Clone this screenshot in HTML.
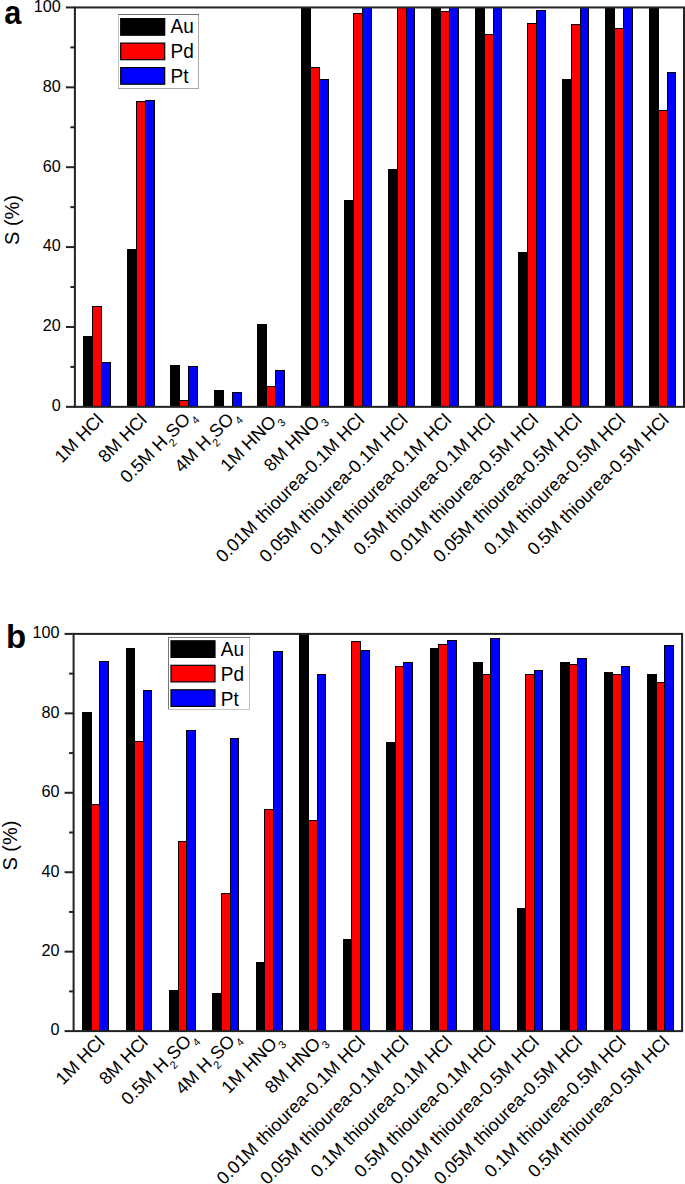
<!DOCTYPE html>
<html><head><meta charset="utf-8">
<style>
html,body{margin:0;padding:0;background:#fff;}
body{width:685px;height:1184px;overflow:hidden;}
svg{display:block;font-family:'Liberation Sans', sans-serif;}
</style></head>
<body>
<svg width="685" height="1184" viewBox="0 0 685 1184" fill="#000">
<rect x="0" y="0" width="685" height="1184" fill="#fff"/>
<rect x="83" y="336" width="10" height="71" fill="#000"/>
<rect x="92" y="306" width="10" height="101" fill="#000"/>
<rect x="93" y="307" width="8" height="100" fill="#ff0000"/>
<rect x="101" y="362" width="10" height="45" fill="#000"/>
<rect x="102" y="363" width="8" height="44" fill="#0000ff"/>
<rect x="127" y="249" width="10" height="158" fill="#000"/>
<rect x="136" y="101" width="10" height="306" fill="#000"/>
<rect x="137" y="102" width="8" height="305" fill="#ff0000"/>
<rect x="145" y="100" width="10" height="307" fill="#000"/>
<rect x="146" y="101" width="8" height="306" fill="#0000ff"/>
<rect x="170" y="365" width="10" height="42" fill="#000"/>
<rect x="179" y="400" width="10" height="7" fill="#000"/>
<rect x="180" y="401" width="8" height="6" fill="#ff0000"/>
<rect x="188" y="366" width="10" height="41" fill="#000"/>
<rect x="189" y="367" width="8" height="40" fill="#0000ff"/>
<rect x="214" y="390" width="10" height="17" fill="#000"/>
<rect x="232" y="392" width="10" height="15" fill="#000"/>
<rect x="233" y="393" width="8" height="14" fill="#0000ff"/>
<rect x="257" y="324" width="10" height="83" fill="#000"/>
<rect x="266" y="386" width="10" height="21" fill="#000"/>
<rect x="267" y="387" width="8" height="20" fill="#ff0000"/>
<rect x="275" y="370" width="10" height="37" fill="#000"/>
<rect x="276" y="371" width="8" height="36" fill="#0000ff"/>
<rect x="301" y="7" width="10" height="400" fill="#000"/>
<rect x="310" y="67" width="10" height="340" fill="#000"/>
<rect x="311" y="68" width="8" height="339" fill="#ff0000"/>
<rect x="319" y="79" width="10" height="328" fill="#000"/>
<rect x="320" y="80" width="8" height="327" fill="#0000ff"/>
<rect x="344" y="200" width="10" height="207" fill="#000"/>
<rect x="353" y="13" width="10" height="394" fill="#000"/>
<rect x="354" y="14" width="8" height="393" fill="#ff0000"/>
<rect x="362" y="7" width="10" height="400" fill="#000"/>
<rect x="363" y="8" width="8" height="399" fill="#0000ff"/>
<rect x="388" y="169" width="10" height="238" fill="#000"/>
<rect x="397" y="7" width="10" height="400" fill="#000"/>
<rect x="398" y="8" width="8" height="399" fill="#ff0000"/>
<rect x="406" y="7" width="9" height="400" fill="#000"/>
<rect x="407" y="8" width="7" height="399" fill="#0000ff"/>
<rect x="431" y="7" width="10" height="400" fill="#000"/>
<rect x="440" y="11" width="10" height="396" fill="#000"/>
<rect x="441" y="12" width="8" height="395" fill="#ff0000"/>
<rect x="449" y="7" width="10" height="400" fill="#000"/>
<rect x="450" y="8" width="8" height="399" fill="#0000ff"/>
<rect x="475" y="7" width="10" height="400" fill="#000"/>
<rect x="484" y="34" width="10" height="373" fill="#000"/>
<rect x="485" y="35" width="8" height="372" fill="#ff0000"/>
<rect x="493" y="7" width="9" height="400" fill="#000"/>
<rect x="494" y="8" width="7" height="399" fill="#0000ff"/>
<rect x="518" y="252" width="10" height="155" fill="#000"/>
<rect x="527" y="23" width="10" height="384" fill="#000"/>
<rect x="528" y="24" width="8" height="383" fill="#ff0000"/>
<rect x="536" y="10" width="10" height="397" fill="#000"/>
<rect x="537" y="11" width="8" height="396" fill="#0000ff"/>
<rect x="562" y="79" width="10" height="328" fill="#000"/>
<rect x="571" y="24" width="10" height="383" fill="#000"/>
<rect x="572" y="25" width="8" height="382" fill="#ff0000"/>
<rect x="580" y="7" width="9" height="400" fill="#000"/>
<rect x="581" y="8" width="7" height="399" fill="#0000ff"/>
<rect x="605" y="7" width="10" height="400" fill="#000"/>
<rect x="614" y="28" width="10" height="379" fill="#000"/>
<rect x="615" y="29" width="8" height="378" fill="#ff0000"/>
<rect x="623" y="7" width="10" height="400" fill="#000"/>
<rect x="624" y="8" width="8" height="399" fill="#0000ff"/>
<rect x="649" y="7" width="10" height="400" fill="#000"/>
<rect x="658" y="110" width="10" height="297" fill="#000"/>
<rect x="659" y="111" width="8" height="296" fill="#ff0000"/>
<rect x="667" y="72" width="9" height="335" fill="#000"/>
<rect x="668" y="73" width="7" height="334" fill="#0000ff"/>
<rect x="74.90" y="7.45" width="609.10" height="399.40" fill="none" stroke="#222222" stroke-width="2"/>
<line x1="65.90" y1="406.85" x2="74.90" y2="406.85" stroke="#222222" stroke-width="2"/>
<text x="60.70" y="411.15" text-anchor="end" font-size="16.2">0</text>
<line x1="70.40" y1="366.91" x2="74.90" y2="366.91" stroke="#222222" stroke-width="2"/>
<line x1="65.90" y1="326.97" x2="74.90" y2="326.97" stroke="#222222" stroke-width="2"/>
<text x="60.70" y="331.27" text-anchor="end" font-size="16.2">20</text>
<line x1="70.40" y1="287.03" x2="74.90" y2="287.03" stroke="#222222" stroke-width="2"/>
<line x1="65.90" y1="247.09" x2="74.90" y2="247.09" stroke="#222222" stroke-width="2"/>
<text x="60.70" y="251.39" text-anchor="end" font-size="16.2">40</text>
<line x1="70.40" y1="207.15" x2="74.90" y2="207.15" stroke="#222222" stroke-width="2"/>
<line x1="65.90" y1="167.21" x2="74.90" y2="167.21" stroke="#222222" stroke-width="2"/>
<text x="60.70" y="171.51" text-anchor="end" font-size="16.2">60</text>
<line x1="70.40" y1="127.27" x2="74.90" y2="127.27" stroke="#222222" stroke-width="2"/>
<line x1="65.90" y1="87.33" x2="74.90" y2="87.33" stroke="#222222" stroke-width="2"/>
<text x="60.70" y="91.63" text-anchor="end" font-size="16.2">80</text>
<line x1="70.40" y1="47.39" x2="74.90" y2="47.39" stroke="#222222" stroke-width="2"/>
<line x1="65.90" y1="7.45" x2="74.90" y2="7.45" stroke="#222222" stroke-width="2"/>
<text x="60.70" y="11.75" text-anchor="end" font-size="16.2">100</text>
<text transform="translate(4.3,23.8) scale(0.93,1)" font-size="33" font-weight="bold">a</text>
<text transform="translate(18.7,220) rotate(-90)" text-anchor="middle" font-size="20">S (%)</text>
<rect x="118" y="14" width="81" height="75" fill="#fff"/>
<rect x="118" y="15" width="1" height="73" fill="#c8c8c8"/>
<rect x="198" y="15" width="1" height="73" fill="#a8a8a8"/>
<rect x="118" y="14" width="81" height="1" fill="#707070"/>
<rect x="118" y="88" width="81" height="1" fill="#a8a8a8"/>
<rect x="120.7" y="18.6" width="44" height="16.6" fill="#000000" stroke="#000" stroke-width="1.2"/>
<text transform="translate(170.5,33.4) scale(1,1.045)" font-size="19">Au</text>
<rect x="120.7" y="43.1" width="44" height="16.6" fill="#ff0000" stroke="#000" stroke-width="1.2"/>
<text transform="translate(170.5,58.199999999999996) scale(1,1.045)" font-size="19">Pd</text>
<rect x="120.7" y="67.6" width="44" height="16.6" fill="#0000ff" stroke="#000" stroke-width="1.2"/>
<text transform="translate(170.5,83.0) scale(1,1.045)" font-size="19">Pt</text>
<text transform="translate(104.40,421.25) rotate(-45)" text-anchor="end" font-size="18">1M HCl</text>
<text transform="translate(147.89,421.25) rotate(-45)" text-anchor="end" font-size="18">8M HCl</text>
<text transform="translate(195.68,415.95) rotate(-45)" text-anchor="end" font-size="18"><tspan>0.5M H</tspan><tspan dy="6.5" font-size="11">2</tspan><tspan dy="-6.5" font-size="18">SO</tspan><tspan dy="6.5" font-size="11">4</tspan></text>
<text transform="translate(239.17,415.95) rotate(-45)" text-anchor="end" font-size="18"><tspan>4M H</tspan><tspan dy="6.5" font-size="11">2</tspan><tspan dy="-6.5" font-size="18">SO</tspan><tspan dy="6.5" font-size="11">4</tspan></text>
<text transform="translate(281.66,418.55) rotate(-45)" text-anchor="end" font-size="18"><tspan>1M HNO</tspan><tspan dy="6.5" font-size="11">3</tspan></text>
<text transform="translate(325.15,418.55) rotate(-45)" text-anchor="end" font-size="18"><tspan>8M HNO</tspan><tspan dy="6.5" font-size="11">3</tspan></text>
<text transform="translate(365.34,421.25) rotate(-45)" text-anchor="end" font-size="18">0.01M thiourea-0.1M HCl</text>
<text transform="translate(408.83,421.25) rotate(-45)" text-anchor="end" font-size="18">0.05M thiourea-0.1M HCl</text>
<text transform="translate(452.32,421.25) rotate(-45)" text-anchor="end" font-size="18">0.1M thiourea-0.1M HCl</text>
<text transform="translate(495.81,421.25) rotate(-45)" text-anchor="end" font-size="18">0.5M thiourea-0.1M HCl</text>
<text transform="translate(539.30,421.25) rotate(-45)" text-anchor="end" font-size="18">0.01M thiourea-0.5M HCl</text>
<text transform="translate(582.79,421.25) rotate(-45)" text-anchor="end" font-size="18">0.05M thiourea-0.5M HCl</text>
<text transform="translate(626.28,421.25) rotate(-45)" text-anchor="end" font-size="18">0.1M thiourea-0.5M HCl</text>
<text transform="translate(669.77,421.25) rotate(-45)" text-anchor="end" font-size="18">0.5M thiourea-0.5M HCl</text>
<rect x="82" y="712" width="10" height="319" fill="#000"/>
<rect x="91" y="804" width="9" height="227" fill="#000"/>
<rect x="92" y="805" width="7" height="226" fill="#ff0000"/>
<rect x="99" y="661" width="10" height="370" fill="#000"/>
<rect x="100" y="662" width="8" height="369" fill="#0000ff"/>
<rect x="126" y="648" width="9" height="383" fill="#000"/>
<rect x="134" y="741" width="10" height="290" fill="#000"/>
<rect x="135" y="742" width="8" height="289" fill="#ff0000"/>
<rect x="143" y="690" width="9" height="341" fill="#000"/>
<rect x="144" y="691" width="7" height="340" fill="#0000ff"/>
<rect x="169" y="990" width="10" height="41" fill="#000"/>
<rect x="178" y="841" width="9" height="190" fill="#000"/>
<rect x="179" y="842" width="7" height="189" fill="#ff0000"/>
<rect x="186" y="730" width="10" height="301" fill="#000"/>
<rect x="187" y="731" width="8" height="300" fill="#0000ff"/>
<rect x="212" y="993" width="10" height="38" fill="#000"/>
<rect x="221" y="893" width="10" height="138" fill="#000"/>
<rect x="222" y="894" width="8" height="137" fill="#ff0000"/>
<rect x="230" y="738" width="9" height="293" fill="#000"/>
<rect x="231" y="739" width="7" height="292" fill="#0000ff"/>
<rect x="256" y="962" width="9" height="69" fill="#000"/>
<rect x="264" y="809" width="10" height="222" fill="#000"/>
<rect x="265" y="810" width="8" height="221" fill="#ff0000"/>
<rect x="273" y="651" width="10" height="380" fill="#000"/>
<rect x="274" y="652" width="8" height="379" fill="#0000ff"/>
<rect x="299" y="634" width="10" height="397" fill="#000"/>
<rect x="308" y="820" width="10" height="211" fill="#000"/>
<rect x="309" y="821" width="8" height="210" fill="#ff0000"/>
<rect x="317" y="674" width="9" height="357" fill="#000"/>
<rect x="318" y="675" width="7" height="356" fill="#0000ff"/>
<rect x="343" y="939" width="9" height="92" fill="#000"/>
<rect x="351" y="641" width="10" height="390" fill="#000"/>
<rect x="352" y="642" width="8" height="389" fill="#ff0000"/>
<rect x="360" y="650" width="10" height="381" fill="#000"/>
<rect x="361" y="651" width="8" height="380" fill="#0000ff"/>
<rect x="386" y="742" width="10" height="289" fill="#000"/>
<rect x="395" y="666" width="9" height="365" fill="#000"/>
<rect x="396" y="667" width="7" height="364" fill="#ff0000"/>
<rect x="403" y="662" width="10" height="369" fill="#000"/>
<rect x="404" y="663" width="8" height="368" fill="#0000ff"/>
<rect x="430" y="648" width="9" height="383" fill="#000"/>
<rect x="438" y="644" width="10" height="387" fill="#000"/>
<rect x="439" y="645" width="8" height="386" fill="#ff0000"/>
<rect x="447" y="640" width="10" height="391" fill="#000"/>
<rect x="448" y="641" width="8" height="390" fill="#0000ff"/>
<rect x="473" y="662" width="10" height="369" fill="#000"/>
<rect x="482" y="674" width="9" height="357" fill="#000"/>
<rect x="483" y="675" width="7" height="356" fill="#ff0000"/>
<rect x="490" y="638" width="10" height="393" fill="#000"/>
<rect x="491" y="639" width="8" height="392" fill="#0000ff"/>
<rect x="517" y="908" width="9" height="123" fill="#000"/>
<rect x="525" y="674" width="10" height="357" fill="#000"/>
<rect x="526" y="675" width="8" height="356" fill="#ff0000"/>
<rect x="534" y="670" width="9" height="361" fill="#000"/>
<rect x="535" y="671" width="7" height="360" fill="#0000ff"/>
<rect x="560" y="662" width="10" height="369" fill="#000"/>
<rect x="569" y="664" width="9" height="367" fill="#000"/>
<rect x="570" y="665" width="7" height="366" fill="#ff0000"/>
<rect x="577" y="658" width="10" height="373" fill="#000"/>
<rect x="578" y="659" width="8" height="372" fill="#0000ff"/>
<rect x="604" y="672" width="9" height="359" fill="#000"/>
<rect x="612" y="674" width="10" height="357" fill="#000"/>
<rect x="613" y="675" width="8" height="356" fill="#ff0000"/>
<rect x="621" y="666" width="9" height="365" fill="#000"/>
<rect x="622" y="667" width="7" height="364" fill="#0000ff"/>
<rect x="647" y="674" width="10" height="357" fill="#000"/>
<rect x="656" y="682" width="9" height="349" fill="#000"/>
<rect x="657" y="683" width="7" height="348" fill="#ff0000"/>
<rect x="664" y="645" width="10" height="386" fill="#000"/>
<rect x="665" y="646" width="8" height="385" fill="#0000ff"/>
<rect x="73.60" y="633.90" width="608.50" height="397.20" fill="none" stroke="#222222" stroke-width="2"/>
<line x1="64.60" y1="1031.10" x2="73.60" y2="1031.10" stroke="#222222" stroke-width="2"/>
<text x="59.40" y="1035.40" text-anchor="end" font-size="16.2">0</text>
<line x1="69.10" y1="991.38" x2="73.60" y2="991.38" stroke="#222222" stroke-width="2"/>
<line x1="64.60" y1="951.66" x2="73.60" y2="951.66" stroke="#222222" stroke-width="2"/>
<text x="59.40" y="955.96" text-anchor="end" font-size="16.2">20</text>
<line x1="69.10" y1="911.94" x2="73.60" y2="911.94" stroke="#222222" stroke-width="2"/>
<line x1="64.60" y1="872.22" x2="73.60" y2="872.22" stroke="#222222" stroke-width="2"/>
<text x="59.40" y="876.52" text-anchor="end" font-size="16.2">40</text>
<line x1="69.10" y1="832.50" x2="73.60" y2="832.50" stroke="#222222" stroke-width="2"/>
<line x1="64.60" y1="792.78" x2="73.60" y2="792.78" stroke="#222222" stroke-width="2"/>
<text x="59.40" y="797.08" text-anchor="end" font-size="16.2">60</text>
<line x1="69.10" y1="753.06" x2="73.60" y2="753.06" stroke="#222222" stroke-width="2"/>
<line x1="64.60" y1="713.34" x2="73.60" y2="713.34" stroke="#222222" stroke-width="2"/>
<text x="59.40" y="717.64" text-anchor="end" font-size="16.2">80</text>
<line x1="69.10" y1="673.62" x2="73.60" y2="673.62" stroke="#222222" stroke-width="2"/>
<line x1="64.60" y1="633.90" x2="73.60" y2="633.90" stroke="#222222" stroke-width="2"/>
<text x="59.40" y="638.20" text-anchor="end" font-size="16.2">100</text>
<text transform="translate(6,648) scale(1.0,1)" font-size="33" font-weight="bold">b</text>
<text transform="translate(17.2,845.6) rotate(-90)" text-anchor="middle" font-size="20">S (%)</text>
<rect x="168" y="637" width="82" height="73" fill="#fff"/>
<rect x="168" y="638" width="1" height="71" fill="#787878"/>
<rect x="249" y="638" width="1" height="71" fill="#c4c4c4"/>
<rect x="168" y="637" width="82" height="1" fill="#787878"/>
<rect x="168" y="709" width="82" height="1" fill="#c4c4c4"/>
<rect x="171.0" y="640.8" width="44" height="16.6" fill="#000000" stroke="#000" stroke-width="1.2"/>
<text transform="translate(220.8,656.4) scale(1,1.045)" font-size="19">Au</text>
<rect x="171.0" y="665.3" width="44" height="16.6" fill="#ff0000" stroke="#000" stroke-width="1.2"/>
<text transform="translate(220.8,681.1999999999999) scale(1,1.045)" font-size="19">Pd</text>
<rect x="171.0" y="689.8" width="44" height="16.6" fill="#0000ff" stroke="#000" stroke-width="1.2"/>
<text transform="translate(220.8,706.0) scale(1,1.045)" font-size="19">Pt</text>
<text transform="translate(105.50,1043.30) rotate(-45)" text-anchor="end" font-size="18">1M HCl</text>
<text transform="translate(148.95,1043.30) rotate(-45)" text-anchor="end" font-size="18">8M HCl</text>
<text transform="translate(196.70,1038.00) rotate(-45)" text-anchor="end" font-size="18"><tspan>0.5M H</tspan><tspan dy="6.5" font-size="11">2</tspan><tspan dy="-6.5" font-size="18">SO</tspan><tspan dy="6.5" font-size="11">4</tspan></text>
<text transform="translate(240.15,1038.00) rotate(-45)" text-anchor="end" font-size="18"><tspan>4M H</tspan><tspan dy="6.5" font-size="11">2</tspan><tspan dy="-6.5" font-size="18">SO</tspan><tspan dy="6.5" font-size="11">4</tspan></text>
<text transform="translate(282.60,1040.60) rotate(-45)" text-anchor="end" font-size="18"><tspan>1M HNO</tspan><tspan dy="6.5" font-size="11">3</tspan></text>
<text transform="translate(326.05,1040.60) rotate(-45)" text-anchor="end" font-size="18"><tspan>8M HNO</tspan><tspan dy="6.5" font-size="11">3</tspan></text>
<text transform="translate(366.20,1043.30) rotate(-45)" text-anchor="end" font-size="18">0.01M thiourea-0.1M HCl</text>
<text transform="translate(409.65,1043.30) rotate(-45)" text-anchor="end" font-size="18">0.05M thiourea-0.1M HCl</text>
<text transform="translate(453.10,1043.30) rotate(-45)" text-anchor="end" font-size="18">0.1M thiourea-0.1M HCl</text>
<text transform="translate(496.55,1043.30) rotate(-45)" text-anchor="end" font-size="18">0.5M thiourea-0.1M HCl</text>
<text transform="translate(540.00,1043.30) rotate(-45)" text-anchor="end" font-size="18">0.01M thiourea-0.5M HCl</text>
<text transform="translate(583.45,1043.30) rotate(-45)" text-anchor="end" font-size="18">0.05M thiourea-0.5M HCl</text>
<text transform="translate(626.90,1043.30) rotate(-45)" text-anchor="end" font-size="18">0.1M thiourea-0.5M HCl</text>
<text transform="translate(670.35,1043.30) rotate(-45)" text-anchor="end" font-size="18">0.5M thiourea-0.5M HCl</text>
</svg>
</body></html>
